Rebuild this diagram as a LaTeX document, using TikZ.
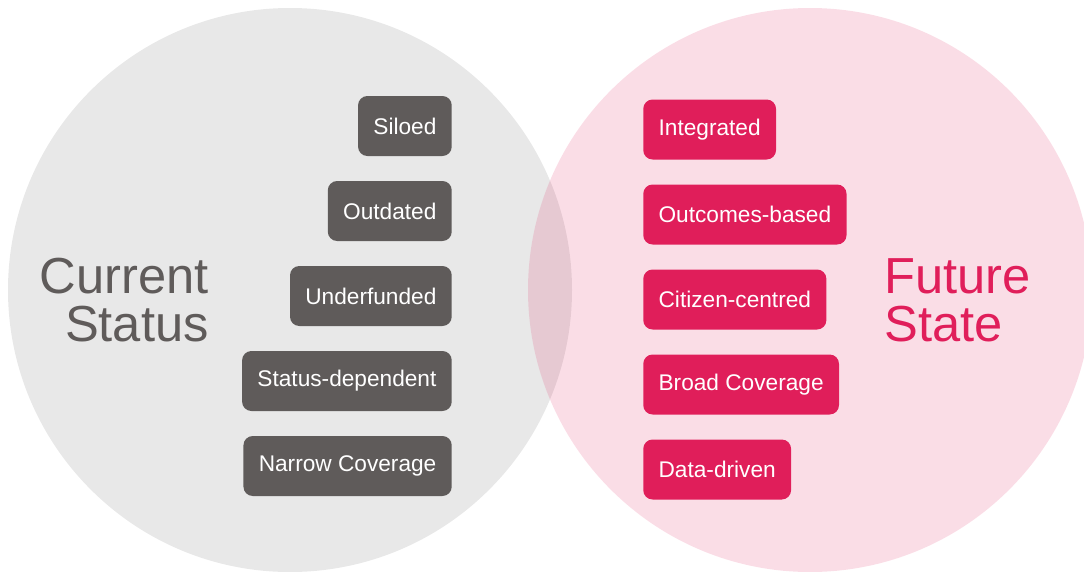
\documentclass[tikz,border=0pt]{standalone}
\usepackage{fontspec}
\setmainfont{Liberation Sans}
\usetikzlibrary{positioning}
\definecolor{slate}{RGB}{95, 91, 90}
\definecolor{rose}{RGB}{224, 30, 90}
\definecolor{mist}{RGB}{232, 232, 232}

\begin{document}
\begin{tikzpicture}[x=0.75pt, y=-0.75pt,
        tag/.style={text=white, rounded corners=7pt, minimum height=45pt, inner xsep=11.5pt, font=\fontsize{17}{19}\selectfont},
        oldtag/.style={tag, fill=slate, anchor=east},
        newtag/.style={tag, fill=rose, anchor=west},
        heading/.style={inner sep=0pt, font=\fontsize{38}{36}\selectfont}]

        \useasboundingbox (0, 0) rectangle (1084, 571);

        % Circles
        \fill[mist] (290, 290) circle (282);
        \fill[rose, opacity=0.15] (810, 290) circle (282);

        % Left
        \node[heading, text=slate, align=right, anchor=east] (current) at (209, 300) {Current\\Status};

        \node[oldtag] (siloed) at (452, 126) {Siloed};
        \node[oldtag] (outdated) at (452, 211) {Outdated};
        \node[oldtag] (underfunded) at (452, 296) {Underfunded};
        \node[oldtag] (dependent) at (452, 381) {Status-dependent};
        \node[oldtag] (narrow) at (452, 466) {Narrow Coverage};

        % Right
        \node[heading, text=rose, align=left, anchor=west] (future) at (884, 300) {Future\\State};

        \node[newtag] (integrated) at (643, 129.5) {Integrated};
        \node[newtag] (outcomes) at (643, 214.5) {Outcomes-based};
        \node[newtag] (citizen) at (643, 299.5) {Citizen-centred};
        \node[newtag] (broad) at (643, 384.5) {Broad Coverage};
        \node[newtag] (datadriven) at (643, 469.5) {Data-driven};
\end{tikzpicture}
\end{document}
